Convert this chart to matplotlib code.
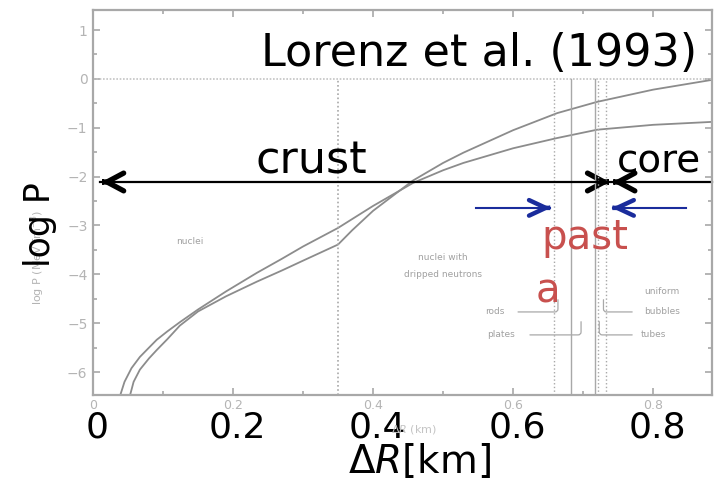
import matplotlib
matplotlib.use("Agg")
import matplotlib.pyplot as plt
from matplotlib.transforms import blended_transform_factory
from matplotlib.patches import FancyArrowPatch

# ---- data ----
curve_a_x = [0.039, 0.045, 0.055, 0.067, 0.080, 0.091, 0.106, 0.124, 0.15, 0.19, 0.234, 0.27, 0.30,
             0.35, 0.40, 0.457, 0.50, 0.529, 0.60, 0.663, 0.72, 0.80, 0.884]
curve_a_y = [-6.47, -6.2, -5.92, -5.69, -5.5, -5.34, -5.17, -4.98, -4.72, -4.35, -3.97, -3.68, -3.43,
             -3.05, -2.6, -2.13, -1.87, -1.72, -1.42, -1.21, -1.04, -0.94, -0.88]
curve_b_x = [0.053, 0.058, 0.067, 0.080, 0.091, 0.106, 0.124, 0.15, 0.19, 0.234, 0.27, 0.30, 0.35,
             0.37, 0.40, 0.457, 0.50, 0.529, 0.60, 0.663, 0.72, 0.80, 0.884]
curve_b_y = [-6.47, -6.2, -5.95, -5.72, -5.55, -5.33, -5.05, -4.76, -4.45, -4.15, -3.92, -3.72, -3.39,
             -3.1, -2.7, -2.08, -1.72, -1.51, -1.05, -0.70, -0.47, -0.22, -0.02]
drip_line = 0.35
pasta_lines = [0.658, 0.682, 0.717, 0.721, 0.733]
pasta_styles = [":", "-", "-", ":", ":"]
x_ticks = [0.0, 0.2, 0.4, 0.6, 0.8]
x_tick_labels = ["0", "0.2", "0.4", "0.6", "0.8"]
y_ticks = [1, 0, -1, -2, -3, -4, -5, -6]

GRAY = "#8c8c8c"
LIGHT = "#a8a8a8"
BLUE = "#1a2c9c"
RED = "#c8504e"
FONT = "DejaVu Sans"

fig = plt.figure(figsize=(7.14, 4.88), dpi=100)
ax = fig.add_axes([93 / 714, 1 - 395 / 488, (712 - 93) / 714, (395 - 10) / 488])
ax.set_xlim(0, 0.884)
ax.set_ylim(-6.47, 1.41)

for s in ax.spines.values():
    s.set_color(LIGHT)
    s.set_linewidth(1.6)

ax.set_xticks(x_ticks)
ax.set_xticklabels(x_tick_labels)
ax.set_xticks([0.1, 0.3, 0.5, 0.7], minor=True)
ax.set_yticks(y_ticks)
ax.set_yticklabels([str(v).replace("-", "\u2212") for v in y_ticks])
ax.set_yticks([v + 0.5 for v in range(-6, 1)], minor=True)
ax.tick_params(which="both", direction="in", top=True, right=True, color=LIGHT,
               labelcolor="#b4b4b4", width=1.2)
ax.tick_params(axis="x", labelsize=9, pad=3)
ax.tick_params(axis="y", labelsize=10, pad=4)
ax.tick_params(which="major", length=5)
ax.tick_params(which="minor", length=3)

# original curves
ax.plot(curve_a_x, curve_a_y, color=GRAY, lw=1.3)
ax.plot(curve_b_x, curve_b_y, color=GRAY, lw=1.3)

# original guide lines
ax.axhline(0, color="#c4c4c4", lw=1.2, ls=(0, (1, 1)))
ax.plot([drip_line, drip_line], [-6.47, 0], color=LIGHT, lw=1.2, ls=(0, (1, 1.5)))
for xv, st in zip(pasta_lines, pasta_styles):
    ax.plot([xv, xv], [-6.47, 0], color=LIGHT, lw=1.0, ls=st)

# original faint labels
lab = dict(color="#a0a0a0", fontsize=6.5, ha="center", va="center")
ax.text(0.138, -3.32, "nuclei", **lab)
ax.text(0.500, -3.65, "nuclei with", **lab)
ax.text(0.500, -4.0, "dripped neutrons", **lab)
ax.text(0.574, -4.77, "rods", **lab)
ax.text(0.582, -5.24, "plates", **lab)
ax.text(0.813, -4.36, "uniform", **lab)
ax.text(0.813, -4.77, "bubbles", **lab)
ax.text(0.801, -5.24, "tubes", **lab)
lead = dict(arrowstyle="-", color="#a8a8a8", lw=0.9, shrinkA=0, shrinkB=0)
ax.annotate("", xy=(0.664, -4.52), xytext=(0.607, -4.77),
            arrowprops=dict(connectionstyle="angle,angleA=0,angleB=90,rad=3", **lead))
ax.annotate("", xy=(0.697, -4.97), xytext=(0.624, -5.24),
            arrowprops=dict(connectionstyle="angle,angleA=0,angleB=90,rad=3", **lead))
ax.annotate("", xy=(0.729, -4.52), xytext=(0.770, -4.77),
            arrowprops=dict(connectionstyle="angle,angleA=180,angleB=90,rad=3", **lead))
ax.annotate("", xy=(0.723, -4.97), xytext=(0.770, -5.24),
            arrowprops=dict(connectionstyle="angle,angleA=180,angleB=90,rad=3", **lead))
fig.text(414 / 714, 1 - 429 / 488, r"$\Delta R$ (km)", color="#c4c4c4", fontsize=8,
         ha="center", va="center")
fig.text(38 / 714, 1 - 258 / 488, r"log P (MeV fm$^{-3}$)", color="#b4b4b4", fontsize=8,
         rotation=90, ha="center", va="center")

# ---- overlay annotations ----
fig.text(479 / 714, 1 - 53 / 488, "Lorenz et al. (1993)", fontsize=32, family=FONT,
         color="black", ha="center", va="center")

y_arrow = -2.11
ax.plot([0.01, 0.884], [y_arrow, y_arrow], color="black", lw=1.6, clip_on=False)


def chevron(tip, yv, direction, color, lw, hl, hw):
    a = FancyArrowPatch((tip - direction * 0.0015, yv), (tip, yv),
                        arrowstyle=f"->,head_length={hl},head_width={hw}",
                        mutation_scale=20, color=color, lw=lw, shrinkA=0, shrinkB=0,
                        capstyle="round", joinstyle="miter")
    ax.add_patch(a)


chevron(0.012, y_arrow, -1, "black", 3.8, 0.6, 0.32)
chevron(0.738, y_arrow, 1, "black", 3.8, 0.6, 0.32)
chevron(0.742, y_arrow, -1, "black", 3.8, 0.6, 0.32)

ax.text(0.312, -1.69, "crust", fontsize=32, family=FONT, ha="center", va="center")
ax.text(0.808, -1.69, "core", fontsize=28, family=FONT, ha="center", va="center")

# blue pasta arrows
y_blue = -2.64
ax.plot([0.547, 0.652], [y_blue, y_blue], color=BLUE, lw=1.5)
ax.plot([0.743, 0.847], [y_blue, y_blue], color=BLUE, lw=1.5)
chevron(0.654, y_blue, 1, BLUE, 3.2, 0.6, 0.28)
chevron(0.741, y_blue, -1, BLUE, 3.2, 0.6, 0.28)

ax.text(0.703, -3.25, "past", fontsize=29, family=FONT, color=RED, ha="center", va="center")
ax.text(0.649, -4.35, "a", fontsize=29, family=FONT, color=RED, ha="center", va="center")

# overlay axis labels
tr = blended_transform_factory(ax.transData, fig.transFigure)
for xv, lbl in zip(x_ticks, x_tick_labels):
    ax.text(xv + 0.006, 1 - 428 / 488, lbl, transform=tr, fontsize=26, family=FONT,
            ha="center", va="center", clip_on=False)
fig.text(420 / 714, 1 - 462 / 488, r"$\Delta R$[km]", fontsize=28, family=FONT,
         ha="center", va="center")
fig.text(40 / 714, 1 - 225 / 488, "log P", fontsize=25, family=FONT, rotation=90,
         ha="center", va="center")

fig.savefig("out.png", dpi=100)
